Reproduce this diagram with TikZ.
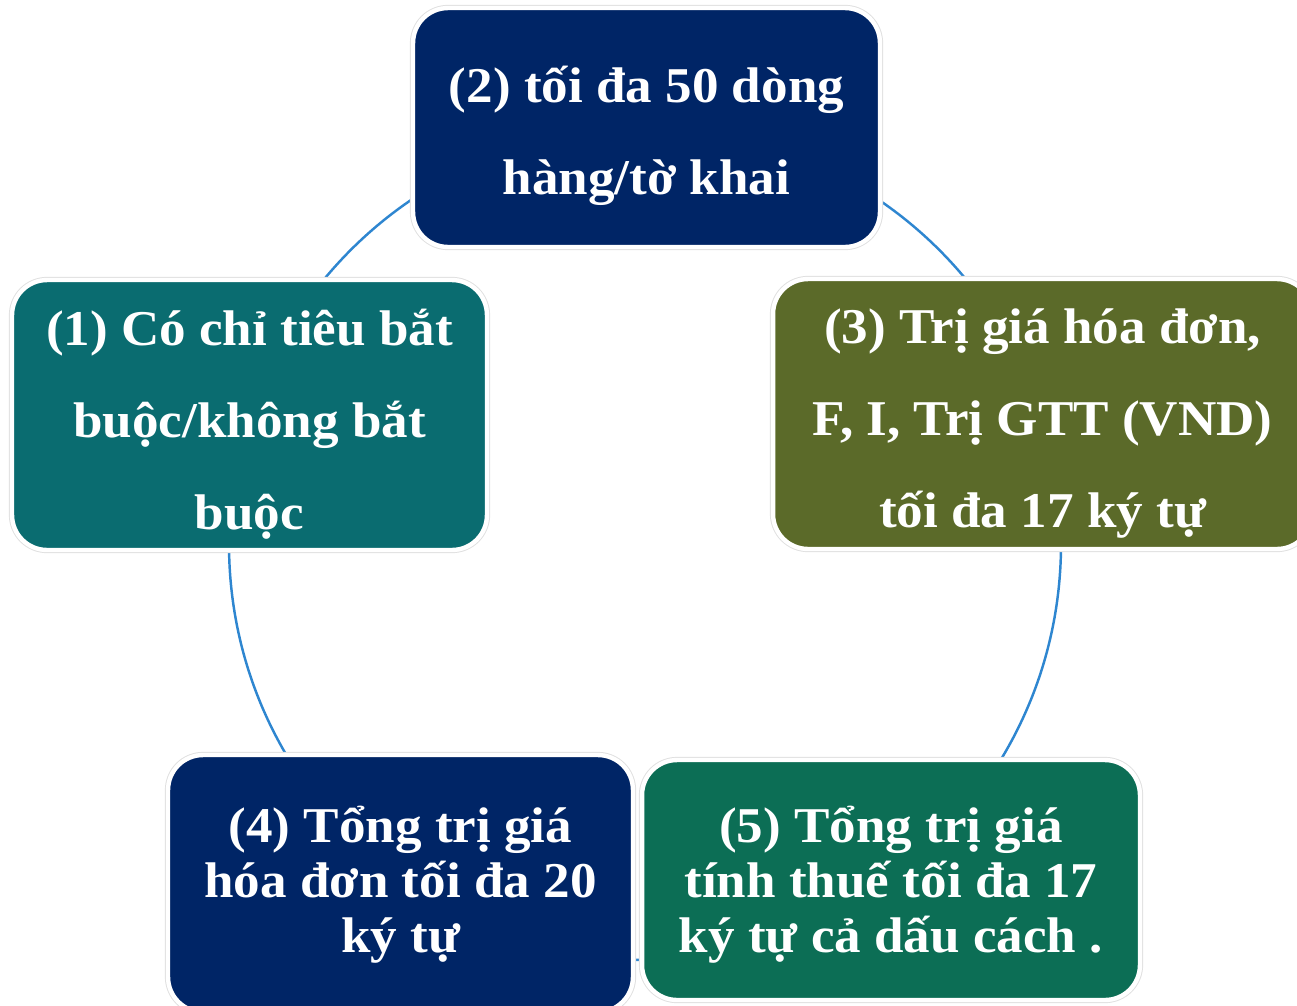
\documentclass[tikz,border=0pt]{standalone}
\usepackage{fontspec}
\newfontfamily\vnfont{Liberation Serif}[FakeStretch=1.06]
\definecolor{navybox}{RGB}{0,37,102}
\definecolor{tealbox}{RGB}{10,108,112}
\definecolor{olivebox}{RGB}{91,106,41}
\definecolor{greenbox}{RGB}{12,110,85}
\definecolor{ringblue}{RGB}{46,134,208}

\begin{document}
\begin{tikzpicture}[x=0.02cm, y=-0.02cm,
    cyclebox/.style={rectangle, rounded corners=0.7cm, draw=white, line width=2.5pt,
        preaction={draw=black!12, line width=3.6pt}, text=white, align=center,
        font=\vnfont\bfseries\fontsize{28.5}{52.5}\selectfont},
    tightbox/.style={font=\vnfont\bfseries\fontsize{28.5}{31.3}\selectfont},
    textlift/.style={text height=#1, text depth=0pt},
    ring/.style={draw=ringblue, line width=1.4pt}]
    \useasboundingbox (0,0) rectangle (1297,1005);
    \coordinate (hub) at (645,544);
    \draw[ring] (hub) circle [radius=416];
    \node[cyclebox, textlift=4.6cm, fill=tealbox, minimum width=9.5cm, minimum height=5.4cm] (c1) at (249.5,415)
        {(1) Có chỉ tiêu bắt\\buộc/không bắt\\buộc};
    \node[cyclebox, textlift=2.7cm, fill=navybox, minimum width=9.34cm, minimum height=4.78cm] (c2) at (646.5,127.5)
        {(2) tối đa 50 dòng\\hàng/tờ khai};
    \node[cyclebox, textlift=4.56cm, fill=olivebox, minimum width=10.78cm, minimum height=5.4cm] (c3) at (1042.5,414)
        {(3) Trị giá hóa đơn,\\F, I, Trị GTT (VND)\\tối đa 17 ký tự};
    \node[cyclebox, tightbox, textlift=2.74cm, fill=navybox, minimum width=9.3cm, minimum height=5.14cm] (c4) at (400.5,883.5)
        {(4) Tổng trị giá\\hóa đơn tối đa 20\\ký tự};
    \node[cyclebox, tightbox, textlift=2.88cm, fill=greenbox, minimum width=9.96cm, minimum height=4.8cm] (c5) at (891,880)
        {(5) Tổng trị giá\\tính thuế tối đa 17\\ký tự cả dấu cách .};
\end{tikzpicture}
\end{document}
